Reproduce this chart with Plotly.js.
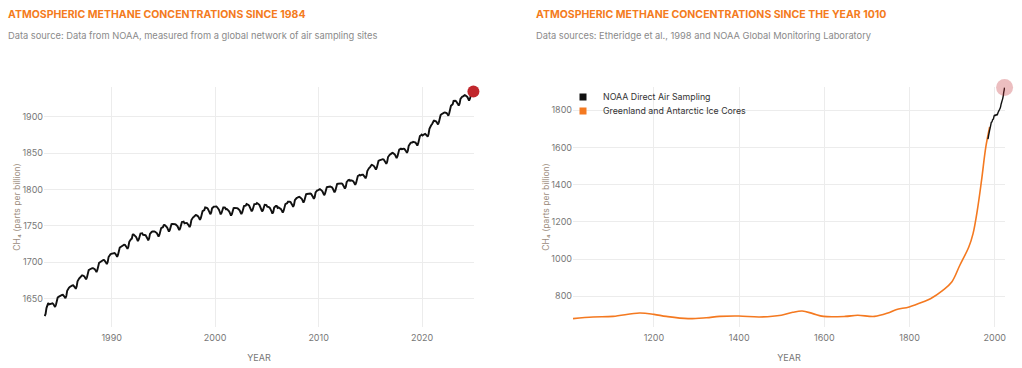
<!DOCTYPE html>
<html>
<head>
<meta charset="utf-8">
<script src="https://cdn.plot.ly/plotly-3.0.1.min.js"></script>
<style>
  html, body { margin: 0; padding: 0; background: #ffffff; }
  #chart { width: 1022px; height: 368px; }
</style>
</head>
<body>
<div id="chart"></div>
<script>
// ---------- DATA ----------
// Left chart: NOAA global monthly mean CH4 (ppb)
const monthlyYears = [1983,1984,1985,1986,1987,1988,1989,1990,1991,1992,1993,1994,1995,1996,1997,1998,1999,2000,2001,2002,2003,2004,2005,2006,2007,2008,2009,2010,2011,2012,2013,2014,2015,2016,2017,2018,2019,2020,2021,2022,2023,2024];
const firstMonth1983 = 7; // series starts July 1983
const monthlyCH4 = [
  [1626,1629,1637,1643,1644,1642],
  [1642.5,1643.5,1643.5,1643.5,1642.5,1640.5,1638.5,1641.5,1648.5,1651.5,1652.5,1653.5],
  [1654.0,1655.1,1655.2,1655.3,1654.4,1652.5,1650.5,1653.6,1660.7,1663.8,1664.9,1666.0],
  [1667.0,1668.1,1668.2,1668.3,1667.4,1665.5,1663.5,1666.6,1673.7,1676.8,1677.9,1679.0],
  [1681.0,1681.9,1681.8,1681.7,1680.6,1678.5,1676.5,1679.4,1686.3,1689.2,1690.1,1691.0],
  [1691.0,1691.9,1691.8,1691.7,1690.6,1688.5,1686.5,1689.4,1696.3,1699.2,1700.1,1701.0],
  [1702.4,1703.3,1703.1,1702.9,1701.8,1699.6,1697.4,1700.3,1707.1,1709.9,1710.8,1711.6],
  [1712.0,1712.9,1712.8,1712.7,1711.6,1709.5,1707.5,1710.4,1717.3,1720.2,1721.1,1722.0],
  [1723.4,1724.3,1724.1,1723.9,1722.8,1720.6,1718.4,1721.3,1728.1,1730.9,1731.8,1732.6],
  [1738.1,1738.3,1737.4,1736.6,1734.8,1731.9,1729.1,1731.3,1737.4,1739.6,1739.8,1739.9],
  [1737.7,1738.1,1737.5,1737.0,1735.4,1732.8,1730.2,1732.6,1739.0,1741.5,1741.9,1742.3],
  [1741.8,1742.4,1742.0,1741.5,1740.1,1737.7,1735.3,1737.9,1744.5,1747.0,1747.6,1748.2],
  [1751.1,1751.3,1750.4,1749.6,1747.8,1744.9,1742.1,1744.3,1750.4,1752.6,1752.8,1752.9],
  [1752.2,1752.5,1751.8,1751.2,1749.5,1746.8,1744.2,1746.5,1752.8,1755.2,1755.5,1755.8],
  [1753.4,1754.3,1754.1,1753.9,1752.8,1750.6,1748.4,1751.3,1758.1,1760.9,1761.8,1762.6],
  [1764.3,1765.0,1764.7,1764.3,1763.0,1760.7,1758.3,1761.0,1767.7,1770.3,1771.0,1771.7],
  [1775.5,1775.6,1774.7,1773.8,1771.9,1769.0,1766.0,1768.1,1774.2,1776.3,1776.4,1776.5],
  [1776.9,1776.8,1775.6,1774.4,1772.3,1769.1,1765.9,1767.8,1773.6,1775.4,1775.3,1775.1],
  [1773.1,1773.3,1772.4,1771.6,1769.8,1766.9,1764.1,1766.3,1772.4,1774.6,1774.8,1774.9],
  [1774.2,1774.5,1773.8,1773.2,1771.5,1768.8,1766.2,1768.5,1774.8,1777.2,1777.5,1777.8],
  [1780.0,1780.0,1779.0,1778.0,1776.0,1773.0,1770.0,1772.0,1778.0,1780.0,1780.0,1780.0],
  [1781.4,1781.1,1779.9,1778.6,1776.4,1773.1,1769.9,1771.6,1777.4,1779.1,1778.9,1778.6],
  [1776.5,1776.6,1775.7,1774.8,1772.9,1770.0,1767.0,1769.1,1775.2,1777.3,1777.4,1777.5],
  [1774.8,1775.4,1775.0,1774.5,1773.1,1770.7,1768.3,1770.9,1777.5,1780.0,1780.6,1781.2],
  [1783.3,1783.8,1783.3,1782.8,1781.3,1778.8,1776.3,1778.8,1785.3,1787.8,1788.3,1788.8],
  [1789.7,1790.1,1789.5,1789.0,1787.4,1784.8,1782.2,1784.6,1791.0,1793.5,1793.9,1794.3],
  [1794.7,1795.1,1794.5,1794.0,1792.4,1789.8,1787.2,1789.6,1796.0,1798.5,1798.9,1799.3],
  [1800.2,1800.5,1799.8,1799.2,1797.5,1794.8,1792.2,1794.5,1800.8,1803.2,1803.5,1803.8],
  [1803.7,1804.1,1803.5,1803.0,1801.4,1798.8,1796.2,1798.6,1805.0,1807.5,1807.9,1808.3],
  [1808.7,1809.1,1808.5,1808.0,1806.4,1803.8,1801.2,1803.6,1810.0,1812.5,1812.9,1813.3],
  [1811.9,1812.6,1812.4,1812.1,1810.9,1808.6,1806.4,1809.1,1815.9,1818.6,1819.4,1820.1],
  [1819.5,1820.5,1820.5,1820.5,1819.5,1817.5,1815.5,1818.5,1825.5,1828.5,1829.5,1830.5],
  [1833.3,1834.0,1833.7,1833.3,1832.0,1829.7,1827.3,1830.0,1836.7,1839.3,1840.0,1840.7],
  [1841.3,1842.0,1841.7,1841.3,1840.0,1837.7,1835.3,1838.0,1844.7,1847.3,1848.0,1848.7],
  [1849.8,1850.4,1850.0,1849.5,1848.1,1845.7,1843.3,1845.9,1852.5,1855.0,1855.6,1856.2],
  [1855.4,1856.3,1856.1,1855.9,1854.8,1852.6,1850.4,1853.3,1860.1,1862.9,1863.8,1864.6],
  [1864.5,1865.5,1865.5,1865.5,1864.5,1862.5,1860.5,1863.5,1870.5,1873.5,1874.5,1875.5],
  [1874.2,1875.6,1876.0,1876.5,1875.9,1874.3,1872.7,1876.1,1883.5,1887.0,1888.4,1889.8],
  [1893.5,1894.5,1894.5,1894.5,1893.5,1891.5,1889.5,1892.5,1899.5,1902.5,1903.5,1904.5],
  [1904.6,1905.8,1905.9,1906.1,1905.3,1903.4,1901.6,1904.8,1911.9,1915.1,1916.3,1917.4],
  [1921.8,1922.4,1922.0,1921.5,1920.1,1917.7,1915.3,1917.9,1924.5,1927.0,1927.6,1928.2],
  [1929.3,1929.8,1929.3,1928.8,1927.3,1924.8,1922.3,1924.8,1931.3,1933.8,1934.3,1934.8]
];

// Right chart: NOAA annual means (ppb)
const noaaYears = [1984,1985,1986,1987,1988,1989,1990,1991,1992,1993,1994,1995,1996,1997,1998,1999,2000,2001,2002,2003,2004,2005,2006,2007,2008,2009,2010,2011,2012,2013,2014,2015,2016,2017,2018,2019,2020,2021,2022,2023];
const noaaAnnual = [1645,1657,1670,1683,1693,1704,1714,1725,1736,1737,1742,1749,1751,1755,1765,1773,1773,1771,1773,1777,1777,1774,1775,1783,1789,1794,1799,1803,1808,1813,1822,1834,1842,1850,1857,1867,1879,1896,1908,1922];

// Right chart: Greenland and Antarctic ice cores (ppb)
const iceYears = [1010,1057,1104,1166,1200,1229,1280,1323,1354,1399,1448,1499,1526,1548,1573,1598,1649,1678,1718,1749,1768,1799,1831,1849,1878,1899,1918,1939,1949,1959,1969,1979,1988];
const iceCH4   = [680,689,692,710,703,692,680,685,692,694,689,698,714,721,707,692,692,698,692,710,728,743,769,787,832,877,967,1065,1137,1262,1424,1603,1710];

const leftTicks = [1990,2000,2010,2020];
const rightTicks = [1200,1400,1600,1800,2000];

const seriesNames = ['NOAA Direct Air Sampling', 'Greenland and Antarctic Ice Cores'];
const titles = ['ATMOSPHERIC METHANE CONCENTRATIONS SINCE 1984', 'ATMOSPHERIC METHANE CONCENTRATIONS SINCE THE YEAR 1010'];
const subtitles = ['Data source: Data from NOAA, measured from a global network of air sampling sites',
                   'Data sources: Etheridge et al., 1998 and NOAA Global Monitoring Laboratory'];
const yTitle = 'CH\u2084 (parts per billion)';
const xTitle = 'YEAR';

// ---------- BUILD ----------
const mDates = [], mVals = [];
monthlyYears.forEach((yr, i) => {
  const row = monthlyCH4[i];
  const m0 = (i === 0) ? firstMonth1983 : 1;
  row.forEach((v, j) => {
    const m = m0 + j;
    mDates.push(yr + '-' + String(m).padStart(2, '0') + '-15');
    mVals.push(v);
  });
});

const FONT = 'Inter, "Noto Sans", sans-serif';
const ORANGE = '#f47b20';
const RED = '#c1272d';
const GRID = '#ececec';
const TICKC = '#777777';
const YTC = '#9c8c7c';

const traces = [
  { x: mDates, y: mVals, type: 'scatter', mode: 'lines', xaxis: 'x', yaxis: 'y',
    line: { color: '#111111', width: 1.9 }, showlegend: false, hoverinfo: 'skip' },
  { x: [mDates[mDates.length-1]], y: [mVals[mVals.length-1]], type: 'scatter', mode: 'markers',
    xaxis: 'x', yaxis: 'y', marker: { color: RED, size: 12 }, cliponaxis: false, showlegend: false, hoverinfo: 'skip' },

  { x: iceYears, y: iceCH4, type: 'scatter', mode: 'lines', xaxis: 'x2', yaxis: 'y2',
    line: { color: '#f47920', width: 1.6, shape: 'spline', smoothing: 1 }, showlegend: false, hoverinfo: 'skip' },
  { x: noaaYears, y: noaaAnnual, type: 'scatter', mode: 'lines', xaxis: 'x2', yaxis: 'y2',
    line: { color: '#111111', width: 1.4, shape: 'spline', smoothing: 0.8 }, showlegend: false, hoverinfo: 'skip' },
  { x: [noaaYears[noaaYears.length-1]], y: [noaaAnnual[noaaAnnual.length-1]], type: 'scatter', mode: 'markers',
    xaxis: 'x2', yaxis: 'y2', marker: { color: 'rgba(193,39,45,0.3)', size: 17 }, cliponaxis: false, showlegend: false, hoverinfo: 'skip' },

  // legend entries (one legend per row, for the tight row spacing of the original)
  { x: [null], y: [null], type: 'scatter', mode: 'markers', xaxis: 'x2', yaxis: 'y2', name: seriesNames[0],
    marker: { symbol: 'square', size: 7, color: '#111111' }, showlegend: true, legend: 'legend' },
  { x: [null], y: [null], type: 'scatter', mode: 'markers', xaxis: 'x2', yaxis: 'y2', name: seriesNames[1],
    marker: { symbol: 'square', size: 7, color: '#f47920' }, showlegend: true, legend: 'legend2' }
];

const yDom = [41/368, 281/368];
const axisCommon = {
  showgrid: true, gridcolor: GRID, gridwidth: 1, zeroline: false, showline: false,
  ticks: '', tickfont: { family: FONT, size: 9, color: TICKC }, automargin: false, fixedrange: true
};
const legendCommon = {
  xanchor: 'left', yanchor: 'top', bgcolor: 'rgba(0,0,0,0)',
  font: { family: FONT, size: 8.8, color: '#333333' }, tracegroupgap: 0, itemwidth: 30
};

const layout = {
  width: 1022, height: 368,
  margin: { l: 0, r: 0, t: 0, b: 0 },
  paper_bgcolor: '#ffffff', plot_bgcolor: '#ffffff',
  font: { family: FONT },
  showlegend: true,
  legend: Object.assign({}, legendCommon, { x: 563/1022, y: 1 - 82.5/368 }),
  legend2: Object.assign({}, legendCommon, { x: 563/1022, y: 1 - 96.5/368 }),
  xaxis: Object.assign({}, axisCommon, {
    domain: [44/1022, 474/1022], anchor: 'y', type: 'date',
    range: ['1983-06-20', '2025-01-05'], ticklabelstandoff: 4,
    tickvals: leftTicks.map(y => y + '-01-01'), ticktext: leftTicks.map(String),
    title: { text: xTitle, font: { family: FONT, size: 9, color: TICKC }, standoff: 12 }
  }),
  yaxis: Object.assign({}, axisCommon, {
    domain: yDom, anchor: 'x', range: [1611, 1941], dtick: 50, tick0: 1650,
    title: { text: yTitle, font: { family: FONT, size: 8.5, color: YTC }, standoff: 0 }
  }),
  xaxis2: Object.assign({}, axisCommon, {
    domain: [573/1022, 1005/1022], anchor: 'y2', range: [1010, 2024], ticklabelstandoff: 4,
    tickvals: rightTicks,
    title: { text: xTitle, font: { family: FONT, size: 9, color: TICKC }, standoff: 12 }
  }),
  yaxis2: Object.assign({}, axisCommon, {
    domain: yDom, anchor: 'x2', range: [635, 1925], dtick: 200, tick0: 0,
    title: { text: yTitle, font: { family: FONT, size: 8.5, color: YTC }, standoff: 0 }
  }),
  annotations: [
    { xref: 'paper', yref: 'paper', x: 6/1022, y: 1 - 14/368, xanchor: 'left', yanchor: 'middle', showarrow: false,
      text: '<b>' + titles[0] + '</b>', font: { family: FONT, size: 10.5, color: ORANGE } },
    { xref: 'paper', yref: 'paper', x: 6/1022, y: 1 - 35/368, xanchor: 'left', yanchor: 'middle', showarrow: false,
      text: subtitles[0], font: { family: FONT, size: 9.3, color: '#8a8a8a' } },
    { xref: 'paper', yref: 'paper', x: 534/1022, y: 1 - 14/368, xanchor: 'left', yanchor: 'middle', showarrow: false,
      text: '<b>' + titles[1] + '</b>', font: { family: FONT, size: 10.5, color: ORANGE } },
    { xref: 'paper', yref: 'paper', x: 534/1022, y: 1 - 35/368, xanchor: 'left', yanchor: 'middle', showarrow: false,
      text: subtitles[1], font: { family: FONT, size: 9.3, color: '#8a8a8a' } }
  ]
};

Plotly.newPlot('chart', traces, layout, { staticPlot: true, displayModeBar: false });
</script>
</body>
</html>
